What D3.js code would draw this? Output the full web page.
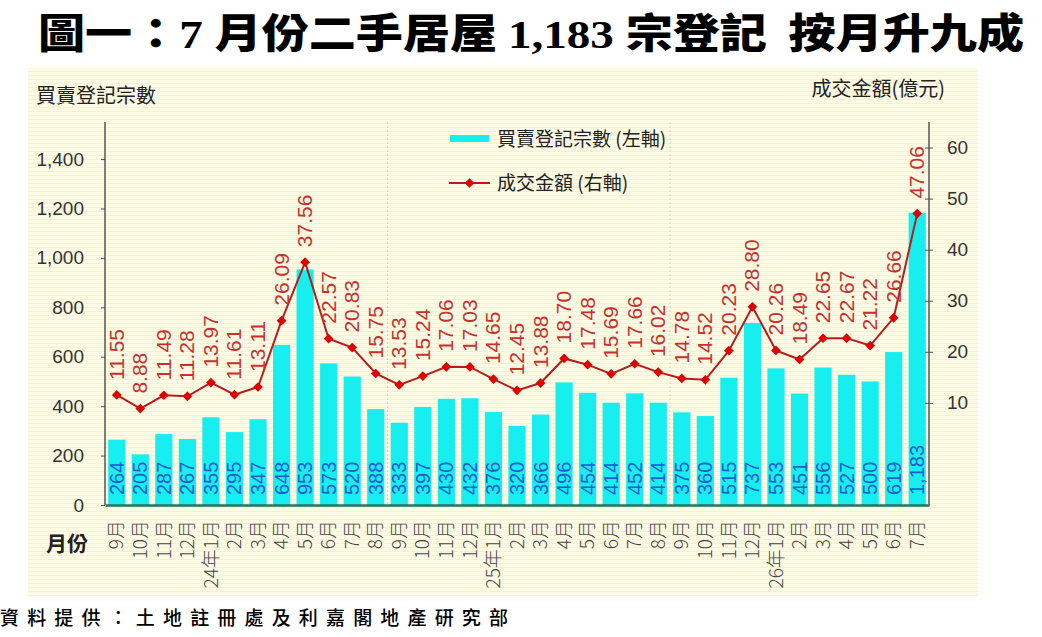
<!DOCTYPE html>
<html>
<head>
<meta charset="utf-8">
<script src="https://cdn.jsdelivr.net/npm/d3@7"></script>
<style>
  body { margin: 0; background: #fff; }
  svg { display: block; font-family: "Liberation Sans", "Noto Sans CJK TC", sans-serif; }
</style>
</head>
<body>
<div id="d3-area"></div>
<script>
// 月份 (x 軸)
let months = ["9月", "10月", "11月", "12月",
  "24年1月", "2月", "3月", "4月", "5月", "6月", "7月", "8月", "9月", "10月", "11月", "12月",
  "25年1月", "2月", "3月", "4月", "5月", "6月", "7月", "8月", "9月", "10月", "11月", "12月",
  "26年1月", "2月", "3月", "4月", "5月", "6月", "7月"];
// 買賣登記宗數 (左軸)
let counts = [264, 205, 287, 267,
  355, 295, 347, 648, 953, 573, 520, 388, 333, 397, 430, 432,
  376, 320, 366, 496, 454, 414, 452, 414, 375, 360, 515, 737,
  553, 451, 556, 527, 500, 619, 1183];
// 成交金額 億元 (右軸)
let amounts = [11.55, 8.88, 11.49, 11.28,
  13.97, 11.61, 13.11, 26.09, 37.56, 22.57, 20.83, 15.75, 13.53, 15.24, 17.06, 17.03,
  14.65, 12.45, 13.88, 18.70, 17.48, 15.69, 17.66, 16.02, 14.78, 14.52, 20.23, 28.80,
  20.26, 18.49, 22.65, 22.67, 21.22, 26.66, 47.06];
let leftTicks = [0, 200, 400, 600, 800, 1000, 1200, 1400];
let rightTicks = [10, 20, 30, 40, 50, 60];

let width = 1042;
let height = 637;
let plot = { left: 105, right: 929, top: 122, bottom: 505 };
let cjk = "'Noto Sans CJK TC', sans-serif";

function translate (x, y) {
  return `translate(${x}, ${y})`;
}

let svg = d3.select("#d3-area").append("svg")
  .attr("width", width)
  .attr("height", height);

// 背景條紋
let defs = svg.append("defs");
let pat = defs.append("pattern")
  .attr("id", "stripes")
  .attr("width", 8).attr("height", 4)
  .attr("patternUnits", "userSpaceOnUse");
pat.append("rect").attr("width", 8).attr("height", 4).attr("fill", "#fdfbe4");
pat.append("rect").attr("y", 3).attr("width", 8).attr("height", 1).attr("fill", "#f5f1d4");

svg.append("rect")
  .attr("x", 28).attr("y", 68)
  .attr("width", 950).attr("height", 528)
  .attr("fill", "url(#stripes)");

// 標題
let title = svg.append("text")
  .attr("x", 38).attr("y", 48)
  .attr("font-family", cjk)
  .attr("font-weight", 900)
  .attr("font-size", 41)
  .attr("fill", "#000")
  .style("white-space", "pre")
  .attr("textLength", 986)
  .attr("lengthAdjust", "spacingAndGlyphs");
title.append("tspan").text("圖一：");
title.append("tspan").attr("font-family", "'Liberation Serif', serif").attr("font-weight", "bold").text("7 ");
title.append("tspan").text("月份二手居屋 ");
title.append("tspan").attr("font-family", "'Liberation Serif', serif").attr("font-weight", "bold").text("1,183 ");
title.append("tspan").text("宗登記  按月升九成");

// 比例尺
let xScale = d3.scaleBand()
  .domain(d3.range(months.length))
  .range([plot.left, plot.right])
  .paddingInner(0.27)
  .paddingOuter(0.135);
let yLeft = d3.scaleLinear().domain([0, 1550]).range([plot.bottom, plot.top]);
let yRight = d3.scaleLinear().domain([-10, 65]).range([plot.bottom, plot.top]);
let cx = i => xScale(i) + xScale.bandwidth() / 2;

// 年份分隔線
let step = xScale.step();
svg.append("g").selectAll("line")
  .data([12, 24])
  .enter().append("line")
  .attr("x1", d => plot.left + step * d)
  .attr("x2", d => plot.left + step * d)
  .attr("y1", plot.top)
  .attr("y2", plot.bottom)
  .attr("stroke", "#dcd8c0")
  .attr("stroke-width", 1)
  .attr("stroke-dasharray", "2,2");

// 柱
let gBar = svg.append("g");
gBar.selectAll("rect")
  .data(counts)
  .enter().append("rect")
  .attr("x", (d, i) => xScale(i))
  .attr("y", d => yLeft(d))
  .attr("width", xScale.bandwidth())
  .attr("height", d => plot.bottom - yLeft(d))
  .attr("fill", "#16eef0");

gBar.selectAll("text")
  .data(counts)
  .enter().append("text")
  .attr("transform", (d, i) => translate(cx(i) + 7, plot.bottom - 10) + " rotate(-90)")
  .attr("font-size", 20)
  .attr("fill", "#1a5fd0")
  .text(d => d3.format(",")(d));

// 左軸
let gLeft = svg.append("g").attr("transform", translate(plot.left, 0));
gLeft.call(d3.axisLeft(yLeft).tickValues(leftTicks).tickFormat(d3.format(",")).tickSizeOuter(0).tickSize(4));
gLeft.select(".domain").attr("stroke", "#555").attr("stroke-width", 1.5)
  .attr("d", `M0,${plot.top}V${plot.bottom}`);
gLeft.selectAll(".tick line").attr("stroke", "#555");
gLeft.selectAll(".tick text")
  .attr("x", -21)
  .attr("font-size", 19)
  .attr("font-family", "'Liberation Sans', sans-serif")
  .attr("fill", "#333");

// 右軸
let gRight = svg.append("g").attr("transform", translate(plot.right, 0));
gRight.call(d3.axisRight(yRight).tickValues(rightTicks).tickSizeOuter(0).tickSize(4));
gRight.select(".domain").attr("stroke", "#555").attr("stroke-width", 1.5)
  .attr("d", `M0,${plot.top}V${plot.bottom}`);
gRight.selectAll(".tick line").attr("stroke", "#555").attr("x1", -4);
gRight.selectAll(".tick text")
  .attr("x", 18)
  .attr("font-size", 19)
  .attr("font-family", "'Liberation Sans', sans-serif")
  .attr("fill", "#333");

// 底軸
let gX = svg.append("g").attr("transform", translate(0, plot.bottom));
gX.call(d3.axisBottom(xScale).tickSize(0).tickFormat(i => months[i]));
gX.select(".domain").attr("stroke", "#2b6f66").attr("stroke-width", 2.5);
gX.selectAll(".tick text")
  .attr("transform", "rotate(-90)")
  .attr("x", -15)
  .attr("y", 0)
  .attr("dy", "0.35em")
  .attr("text-anchor", "end")
  .attr("font-size", 19)
  .attr("font-family", cjk)
  .attr("font-weight", 300)
  .attr("fill", "#444");

// 折線
let line = d3.line()
  .x((d, i) => cx(i))
  .y(d => yRight(d));
svg.append("path")
  .datum(amounts)
  .attr("d", line)
  .attr("fill", "none")
  .attr("stroke", "#b81c1c")
  .attr("stroke-width", 2);

let diamond = d3.symbol().type(d3.symbolDiamond2).size(60);
let gDots = svg.append("g");
gDots.selectAll("path")
  .data(amounts)
  .enter().append("path")
  .attr("d", diamond)
  .attr("transform", (d, i) => translate(cx(i), yRight(d)))
  .attr("fill", "#e00000");

gDots.selectAll("text")
  .data(amounts)
  .enter().append("text")
  .attr("transform", (d, i) => translate(cx(i) + 7, yRight(d) - 15) + " rotate(-90)")
  .attr("font-size", 21)
  .attr("fill", "#c8322e")
  .text(d => d3.format(".2f")(d));

// 圖例
let gLegend = svg.append("g");
gLegend.append("rect")
  .attr("x", 450).attr("y", 135)
  .attr("width", 39).attr("height", 7)
  .attr("fill", "#16eef0");
gLegend.append("text")
  .attr("x", 497).attr("y", 146)
  .attr("font-family", cjk).attr("font-size", 19).attr("fill", "#222")
  .text("買賣登記宗數 (左軸)");
gLegend.append("line")
  .attr("x1", 449).attr("x2", 490)
  .attr("y1", 183).attr("y2", 183)
  .attr("stroke", "#b81c1c").attr("stroke-width", 2);
gLegend.append("path")
  .attr("d", diamond)
  .attr("transform", translate(469.5, 183))
  .attr("fill", "#e00000");
gLegend.append("text")
  .attr("x", 497).attr("y", 190)
  .attr("font-family", cjk).attr("font-size", 19).attr("fill", "#222")
  .text("成交金額 (右軸)");

// 軸標題
svg.append("text")
  .attr("x", 36).attr("y", 103)
  .attr("font-family", cjk).attr("font-size", 20).attr("fill", "#222")
  .text("買賣登記宗數");
svg.append("text")
  .attr("x", 945).attr("y", 96)
  .attr("text-anchor", "end")
  .attr("font-family", cjk).attr("font-size", 20).attr("fill", "#222")
  .text("成交金額(億元)");
svg.append("text")
  .attr("x", 46).attr("y", 551)
  .attr("font-family", cjk).attr("font-size", 21).attr("font-weight", "bold").attr("fill", "#222")
  .text("月份");

// 資料來源
svg.append("text")
  .attr("x", 0).attr("y", 625)
  .attr("font-family", cjk).attr("font-size", 19).attr("font-weight", 500).attr("fill", "#000")
  .attr("textLength", 508)
  .attr("lengthAdjust", "spacing")
  .text("資料提供：土地註冊處及利嘉閣地產研究部");
</script>
</body>
</html>
